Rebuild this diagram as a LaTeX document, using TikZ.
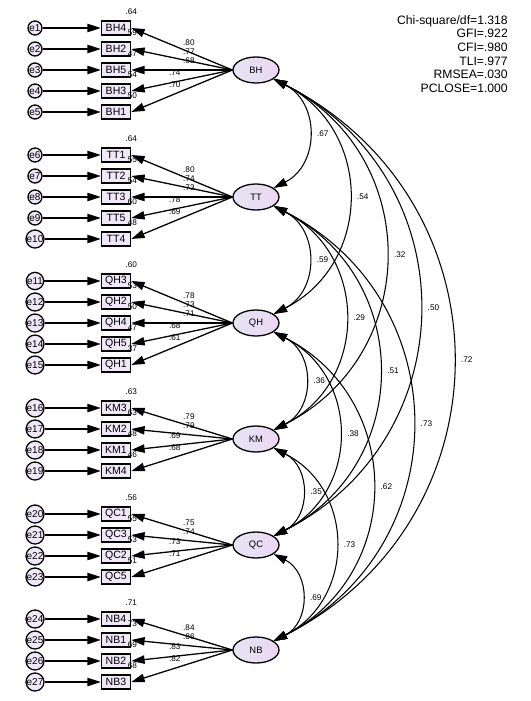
\documentclass[tikz,border=0pt]{standalone}
\usepackage{fontspec}
\setmainfont{Liberation Sans}
\usetikzlibrary{arrows.meta, positioning, shapes.geometric}
\definecolor{boxfill}{RGB}{240,232,248}
\definecolor{latleft}{RGB}{228,230,244}
\definecolor{latright}{RGB}{236,214,242}
\tikzset{
  amos/.tip={Triangle[length=4mm, width=2.5mm]},
  item/.style={rectangle, draw=black, line width=1.3pt, fill=boxfill, minimum width=0.87cm,
               minimum height=0.42cm, inner sep=0pt, font=\fontsize{9}{10}\selectfont},
  err/.style={circle, draw=black, line width=1.1pt, fill=boxfill, minimum size=0.42cm,
              inner sep=0pt, font=\fontsize{8.5}{9}\selectfont},
  latent/.style={ellipse, draw=black, line width=1.1pt, left color=latleft, right color=latright,
                 minimum width=1.38cm, minimum height=0.78cm, inner sep=0pt, font=\fontsize{8}{9}\selectfont},
  num/.style={font=\fontsize{7}{8}\selectfont, inner sep=1pt},
  fitidx/.style={font=\fontsize{10.4}{11.7}\selectfont, align=right, inner sep=0pt},
  arrowline/.style={-{amos}, line width=1.1pt},
  cov/.style={{amos}-{amos}, line width=0.9pt, bend left=63, looseness=1.22},
}
% one factor with its indicators: latent, latent y, first item y, item list
\newcommand\indgroup[4]{%
  \foreach \ind/\e/\r/\l [count=\k] in {#4}{
    \pgfmathsetmacro\yy{#3+21*(\k-1)}
    \pgfmathsetmacro\pp{ifthenelse(\yy<#2+1,0.43,0.57)}
    \node[item] (\ind) at (116,\yy) {\ind};
    \node[err] (e\e) at (35,\yy) {e\e};
    \node[num, above=3.5pt of \ind.north east] (r\ind) {\r};
    \draw[arrowline] (e\e) -- (\ind);
    \draw[arrowline] (#1.west) -- (\ind.east) node[num, pos=\pp, above=4pt] (l\ind) {\l};
  }%
}

\begin{document}
\begin{tikzpicture}[x=0.03cm, y=-0.03cm]
\useasboundingbox (0,0) rectangle (530,701);

\node[latent] (BH) at (256,70) {BH};
\node[latent] (TT) at (256,197) {TT};
\node[latent] (QH) at (256,323) {QH};
\node[latent] (KM) at (256,439) {KM};
\node[latent] (QC) at (256,545) {QC};
\node[latent] (NB) at (256,650) {NB};

\indgroup{BH}{70}{28}{BH4/1/.64/.80, BH2/2/.59/.77, BH5/3/.47/.68, BH3/4/.54/.74, BH1/5/.50/.70}
\indgroup{TT}{197}{155}{TT1/6/.64/.80, TT2/7/.55/.74, TT3/8/.54/.73, TT5/9/.60/.78, TT4/10/.48/.69}
\indgroup{QH}{323}{281}{QH3/11/.60/.78, QH2/12/.53/.73, QH4/13/.50/.71, QH5/14/.47/.68, QH1/15/.37/.61}
\indgroup{KM}{439}{408}{KM3/16/.63/.79, KM2/17/.63/.79, KM1/18/.48/.69, KM4/19/.46/.68}
\indgroup{QC}{545}{514}{QC1/20/.56/.75, QC3/21/.55/.74, QC2/22/.53/.73, QC5/23/.51/.71}
\indgroup{NB}{650}{619}{NB4/24/.71/.84, NB1/25/.73/.86, NB2/26/.69/.83, NB3/27/.68/.82}

% covariances
\draw[cov] (BH) to node[num, right=6pt] (cBHTT) {.67} (TT);
\draw[cov] (BH) to node[num, right=6pt] (cBHQH) {.54} (QH);
\draw[cov] (BH) to node[num, right=6pt] (cBHKM) {.32} (KM);
\draw[cov] (BH) to node[num, right=6pt] (cBHQC) {.50} (QC);
\draw[cov] (BH) to node[num, right=6pt] (cBHNB) {.72} (NB);
\draw[cov] (TT) to node[num, right=6pt] (cTTQH) {.59} (QH);
\draw[cov] (TT) to node[num, right=6pt] (cTTKM) {.29} (KM);
\draw[cov] (TT) to node[num, right=6pt] (cTTQC) {.51} (QC);
\draw[cov] (TT) to node[num, right=6pt] (cTTNB) {.73} (NB);
\draw[cov] (QH) to node[num, right=6pt] (cQHKM) {.36} (KM);
\draw[cov] (QH) to node[num, right=6pt] (cQHQC) {.38} (QC);
\draw[cov] (QH) to node[num, right=6pt] (cQHNB) {.62} (NB);
\draw[cov] (KM) to node[num, right=6pt] (cKMQC) {.35} (QC);
\draw[cov] (KM) to node[num, right=6pt] (cKMNB) {.73} (NB);
\draw[cov] (QC) to node[num, right=6pt] (cQCNB) {.69} (NB);

\node[fitidx, anchor=north east] (fit) at (508,15)
  {Chi-square/df=1.318\\GFI=.922\\CFI=.980\\TLI=.977\\RMSEA=.030\\PCLOSE=1.000};
\end{tikzpicture}
\end{document}
